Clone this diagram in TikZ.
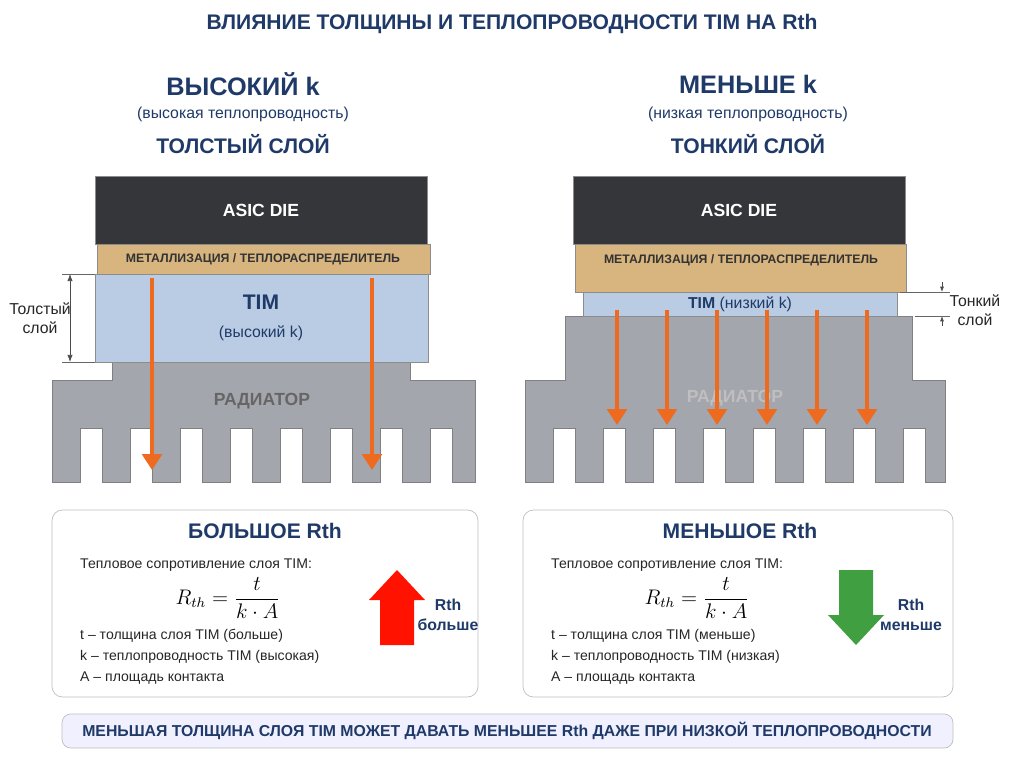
\documentclass[tikz,border=0pt]{standalone}
\usepackage{amsmath}
\usepackage{fontspec}
\setmainfont{Liberation Sans}
\usetikzlibrary{positioning,arrows.meta}
\definecolor{navy}{HTML}{1F3A68}
\definecolor{die}{HTML}{34363A}
\definecolor{metal}{HTML}{D8B57E}
\definecolor{tim}{HTML}{B9CCE3}
\definecolor{sink}{HTML}{A3A6AC}
\definecolor{flow}{HTML}{EE6A1E}
\tikzset{
  layer/.style={draw=black!45,thin},
  heat/.style={flow,line width=2.6pt,-{Triangle[length=9pt,width=11pt]}},
  dim/.style={black!70,thin,{Latex[length=4pt]}-{Latex[length=4pt]}},
  panel/.style={draw=black!25,fill=white,rounded corners=6pt},
  hd/.style={font=\bfseries\large,text=navy},
  txt/.style={font=\footnotesize,text=black!85,anchor=west}
}
\begin{document}
\begin{tikzpicture}[x=0.02cm,y=-0.02cm]
    \useasboundingbox (0,0) rectangle (1024,768);
    \fill[white] (0,0) rectangle (1024,768);

    \node[font=\bfseries\large,text=navy] (title) at (512,24) {ВЛИЯНИЕ ТОЛЩИНЫ И ТЕПЛОПРОВОДНОСТИ TIM НА Rth};

    % left headings
    \node[font=\bfseries\Large,text=navy] (hkl) at (243,84) {ВЫСОКИЙ k};
    \node[text=navy,font=\small] (skl) at (243,114) {(высокая теплопроводность)};
    \node[hd] (tkl) at (243,144) {ТОЛСТЫЙ СЛОЙ};
    % right headings
    \node[font=\bfseries\Large,text=navy] (hkr) at (748,84) {МЕНЬШЕ k};
    \node[text=navy,font=\small] (skr) at (748,114) {(низкая теплопроводность)};
    \node[hd] (tkr) at (748,144) {ТОНКИЙ СЛОЙ};

    % left heatsink
    \fill[sink,draw=black!50] (112,362) -- (410,362) -- (410,380) -- (475,380) -- (475,482)
        \foreach \i in {7,...,0} { -- ({80+50*\i+22},482) -- ({80+50*\i+22},428) -- ({80+50*\i},428) -- ({80+50*\i},482) }
        -- (52,482) -- (52,380) -- (112,380) -- cycle;
    \node[font=\bfseries,text=black!60] (radl) at (262,401) {РАДИАТОР};
    \fill[die,layer] (95,176) rectangle (427,244);
    \node[font=\bfseries,text=white] (diel) at (261,210) {ASIC DIE};
    \fill[metal,layer] (97,244) rectangle (430,274);
    \node[font=\bfseries\scriptsize,text=black!80] (metl) at (263,259) {МЕТАЛЛИЗАЦИЯ / ТЕПЛОРАСПРЕДЕЛИТЕЛЬ};
    \fill[tim,layer] (95,274) rectangle (428,362);
    \node[font=\large,text=navy,align=center] (timl) at (261,318) {\textbf{TIM}\\[2pt]\small(высокий k)};
    \foreach \x in {152,372}
        \draw[heat] (\x,278) -- (\x,470);
    \coordinate (tt) at (70,274);
    \coordinate (tb) at (70,362);
    \draw[dim] (tt) -- (tb);
    \draw[black!60,thin] (62,274) -- (95,274) (62,362) -- (95,362);
    \node[align=center,text=black!85,font=\small] (thl) at (40,318) {Толстый\\слой};

    % right heatsink
    \fill[sink,draw=black!50] (565,316) -- (912,316) -- (912,380) -- (945,380) -- (945,482)
        \foreach \i in {7,...,0} { -- ({553+50*\i+22},482) -- ({553+50*\i+22},428) -- ({553+50*\i},428) -- ({553+50*\i},482) }
        -- (525,482) -- (525,380) -- (565,380) -- cycle;
    \node[font=\bfseries,text=black!25] (radr) at (735,398) {РАДИАТОР};
    \fill[die,layer] (573,176) rectangle (905,244);
    \node[font=\bfseries,text=white] (dier) at (739,210) {ASIC DIE};
    \fill[metal,layer] (575,244) rectangle (906,292);
    \node[font=\bfseries\scriptsize,text=black!80] (metr) at (741,260) {МЕТАЛЛИЗАЦИЯ / ТЕПЛОРАСПРЕДЕЛИТЕЛЬ};
    \fill[tim,layer] (583,292) rectangle (897,316);
    \node[text=navy,font=\small] (timr) at (740,304) {\textbf{TIM} (низкий k)};
    \foreach \x in {617,667,717,767,817,867}
        \draw[heat] (\x,310) -- (\x,425);
    \coordinate (ra) at (942,282);
    \coordinate (rb) at (942,292);
    \coordinate (rc) at (942,316);
    \coordinate (rd) at (942,326);
    \draw[black!70,-{Latex[length=3pt]}] (ra) -- (rb);
    \draw[black!70,-{Latex[length=3pt]}] (rd) -- (rc);
    \draw[black!60,thin] (900,292) -- (950,292) (915,316) -- (950,316);
    \node[align=center,text=black!85,font=\small] (thr) at (975,310) {Тонкий\\слой};

    % left panel
    \draw[panel] (52,510) rectangle (478,697);
    \node[hd] (rbig) at (265,531) {БОЛЬШОЕ Rth};
    \node[txt] (dl) at (74,565) {Тепловое сопротивление слоя TIM:};
    \node[font=\large] (fl) at (228,598) {$R_{th} = \dfrac{t}{k\cdot A}$};
    \node[txt] (l1) at (74,636) {t -- толщина слоя TIM (больше)};
    \node[txt] (l2) at (74,657) {k -- теплопроводность TIM (высокая)};
    \node[txt] (l3) at (74,678) {A -- площадь контакта};
    \fill[red!85!orange] (397,570) -- (425,600) -- (414,600) -- (414,645) -- (380,645) -- (380,600) -- (369,600) -- cycle;
    \node[font=\bfseries\small,text=navy,align=center] (upl) at (448,615) {Rth\\больше};

    % right panel
    \draw[panel] (523,510) rectangle (953,697);
    \node[hd] (rsm) at (740,531) {МЕНЬШОЕ Rth};
    \node[txt] (dr) at (545,565) {Тепловое сопротивление слоя TIM:};
    \node[font=\large] (fr) at (697,598) {$R_{th} = \dfrac{t}{k\cdot A}$};
    \node[txt] (r1) at (545,636) {t -- толщина слоя TIM (меньше)};
    \node[txt] (r2) at (545,657) {k -- теплопроводность TIM (низкая)};
    \node[txt] (r3) at (545,678) {A -- площадь контакта};
    \fill[green!50!black!75] (856,645) -- (884,615) -- (873,615) -- (873,570) -- (839,570) -- (839,615) -- (828,615) -- cycle;
    \node[font=\bfseries\small,text=navy,align=center] (dnl) at (911,615) {Rth\\меньше};

    % banner
    \draw[draw=black!25,fill=blue!6,rounded corners=5pt] (62,714) rectangle (953,748);
    \node[font=\bfseries\small,text=navy] (ban) at (507,731) {МЕНЬШАЯ ТОЛЩИНА СЛОЯ TIM МОЖЕТ ДАВАТЬ МЕНЬШЕЕ Rth ДАЖЕ ПРИ НИЗКОЙ ТЕПЛОПРОВОДНОСТИ};
\end{tikzpicture}
\end{document}
